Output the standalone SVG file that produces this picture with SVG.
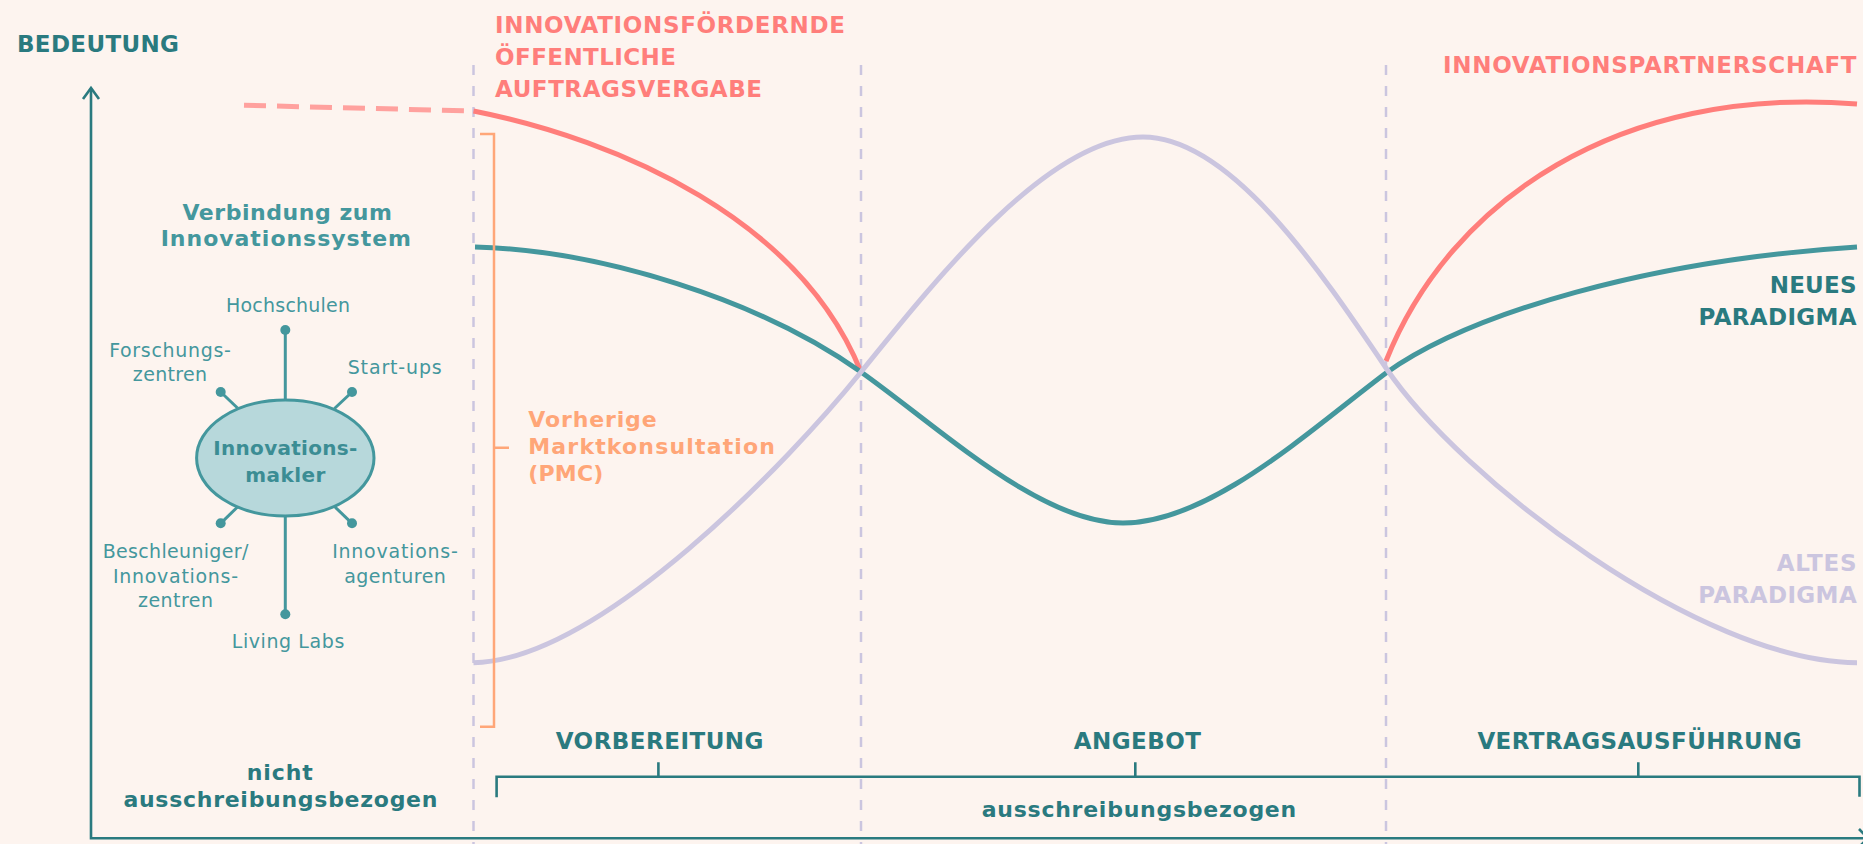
<svg xmlns="http://www.w3.org/2000/svg" width="1863" height="844" viewBox="0 0 1863 844">
  <defs>
    <style>
      .t { font-family: "DejaVu Sans", "Liberation Sans", sans-serif; }
      .cap { font-weight: bold; font-size: 23px; }
      .dark { fill: #2a7a7f; }
      .pink { fill: #ff7e7b; }
      .lav { fill: #cbc5df; }
      .lbl { font-size: 19px; fill: #44979d; text-anchor: middle; }
      .sub { font-weight: bold; font-size: 22px; }
      .pmc { font-weight: bold; font-size: 22px; fill: #ffa678; }
      .phase { fill: none; stroke: #cbc5df; stroke-width: 2.5; stroke-dasharray: 10 11; }
      .axis { fill: none; stroke: #2a7a7f; stroke-width: 2.6; }
      .curve { fill: none; stroke-width: 5; stroke-linecap: butt; }
      .spoke { stroke: #44979d; stroke-width: 3; }
      .dot { fill: #44979d; }
    </style>
  </defs>

  <rect width="1863" height="844" fill="#fdf4ef"/>

  <!-- phase separators -->
  <g id="phase-lines">
    <line class="phase" x1="473.5" y1="65" x2="473.5" y2="844"/>
    <line class="phase" x1="861" y1="65" x2="861" y2="844"/>
    <line class="phase" x1="1386" y1="65" x2="1386" y2="844"/>
  </g>

  <!-- axes -->
  <g id="axes">
    <path class="axis" d="M91,88 V838.3 H1863"/>
    <path class="axis" d="M83,99 L91,88 L99,99"/>
    <path class="axis" d="M1859,829 L1868,838.3 L1859,847"/>
    <text class="t cap dark" x="17" y="52" font-size="22" textLength="162">BEDEUTUNG</text>
  </g>

  <!-- importance curves -->
  <g id="connectors">
    <path id="curve-procurement-prior" class="curve" stroke="#ffa19e" stroke-dasharray="22 11" d="M244,105.3 L473.5,111"/>
    <path id="curve-procurement-left" class="curve" stroke="#ff7e7b" d="M473.5,111 C620,140 800,220 861,372"/>
    <path id="curve-procurement-right" class="curve" stroke="#ff7e7b" d="M1386,361 C1450,200 1620,85 1857,104"/>
    <path id="curve-new" class="curve" stroke="#44979d" d="M475,247 C600,250 760,300 861,372 C940,428 1040,523 1123,523 C1210,523 1310,430 1386,373 C1470,313 1650,260 1857,247"/>
    <path id="curve-old" class="curve" stroke="#cbc5df" stroke-width="5.2" d="M473.5,662.7 C600,660 790,460 861,372 C940,274 1050,137 1143,137 C1230,137 1320,270 1386,368 C1460,478 1700,662 1857,662.7"/>
  </g>

  <!-- curve labels -->
  <g id="label-procurement">
    <text class="t cap pink" x="495" y="33" textLength="350">INNOVATIONSFÖRDERNDE</text>
    <text class="t cap pink" x="495" y="65" textLength="181">ÖFFENTLICHE</text>
    <text class="t cap pink" x="495" y="97" textLength="267">AUFTRAGSVERGABE</text>
  </g>
  <g id="label-partnership">
    <text class="t cap pink" x="1443" y="72.5" textLength="413.5">INNOVATIONSPARTNERSCHAFT</text>
  </g>
  <g id="label-new">
    <text class="t cap dark" x="1769.7" y="292.7" textLength="86.8">NEUES</text>
    <text class="t cap dark" x="1698.6" y="325" textLength="157.9">PARADIGMA</text>
  </g>
  <g id="label-old">
    <text class="t cap lav" x="1776.7" y="570.7" textLength="80">ALTES</text>
    <text class="t cap lav" x="1698.3" y="602.7" textLength="158.4">PARADIGMA</text>
  </g>

  <!-- market consultation bracket -->
  <g id="pmc">
    <path d="M480,134 H494 V726.7 H480 M494,447.7 H509" fill="none" stroke="#ffa678" stroke-width="2.5"/>
    <text class="t pmc" x="528.3" y="427.3" textLength="128.3">Vorherige</text>
    <text class="t pmc" x="528.3" y="454.3" textLength="246.7">Marktkonsultation</text>
    <text class="t pmc" x="528.3" y="480.7" textLength="75">(PMC)</text>
  </g>

  <!-- innovation system -->
  <g id="label-system">
    <text class="t sub" fill="#44979d" x="182.5" y="220" textLength="209.5">Verbindung zum</text>
    <text class="t sub" fill="#44979d" x="160.7" y="246" textLength="250.3">Innovationssystem</text>
  </g>

  <g id="broker-spokes">
    <line class="spoke" x1="285.3" y1="330" x2="285.3" y2="401"/>
    <line class="spoke" x1="285.3" y1="515" x2="285.3" y2="614.3"/>
    <line class="spoke" x1="220.7" y1="392" x2="237.5" y2="408"/>
    <line class="spoke" x1="352" y1="392" x2="334.5" y2="408.5"/>
    <line class="spoke" x1="220.7" y1="523.3" x2="237.5" y2="507"/>
    <line class="spoke" x1="352" y1="523.3" x2="334.5" y2="506.5"/>
  </g>

  <g id="broker">
    <ellipse cx="285.3" cy="458" rx="88.7" ry="58" fill="#b7d8db" stroke="#44979d" stroke-width="3"/>
    <text class="t" font-weight="bold" font-size="20" fill="#3b8d94" text-anchor="middle" x="285.3" y="455" textLength="144">Innovations-</text>
    <text class="t" font-weight="bold" font-size="20" fill="#3b8d94" text-anchor="middle" x="285.3" y="481.7" textLength="80">makler</text>
  </g>

  <g id="node-hochschulen">
    <circle class="dot" cx="285.3" cy="330" r="5"/>
    <text class="t lbl" x="288" y="311.7" textLength="124">Hochschulen</text>
  </g>
  <g id="node-forschungszentren">
    <circle class="dot" cx="220.7" cy="392" r="5"/>
    <text class="t lbl" x="170" y="357" textLength="121.7">Forschungs-</text>
    <text class="t lbl" x="170" y="380.7" textLength="74.3">zentren</text>
  </g>
  <g id="node-startups">
    <circle class="dot" cx="352" cy="392" r="5"/>
    <text class="t lbl" x="394.7" y="374.3" textLength="94">Start-ups</text>
  </g>
  <g id="node-beschleuniger">
    <circle class="dot" cx="220.7" cy="523.3" r="5"/>
    <text class="t lbl" x="175.5" y="558.3" textLength="145.6">Beschleuniger/</text>
    <text class="t lbl" x="175.5" y="582.7" textLength="125">Innovations-</text>
    <text class="t lbl" x="175.5" y="606.7" textLength="75">zentren</text>
  </g>
  <g id="node-agenturen">
    <circle class="dot" cx="352" cy="523.3" r="5"/>
    <text class="t lbl" x="395" y="558.3" textLength="125.7">Innovations-</text>
    <text class="t lbl" x="395" y="582.7" textLength="101.7">agenturen</text>
  </g>
  <g id="node-livinglabs">
    <circle class="dot" cx="285.3" cy="614.3" r="5"/>
    <text class="t lbl" x="288" y="647.7" textLength="112.6">Living Labs</text>
  </g>

  <!-- procurement phases -->
  <g id="phases">
    <path class="axis" d="M496.6,797.3 V776.7 H1859.5 V796.7 M658.4,762.3 V776.7 M1135.3,762.3 V776.7 M1638.3,762.3 V776.7"/>
    <text class="t cap dark" x="555.7" y="749.3" textLength="207.8">VORBEREITUNG</text>
    <text class="t cap dark" x="1073.8" y="749.3" textLength="127.2">ANGEBOT</text>
    <text class="t cap dark" x="1477.4" y="749.3" textLength="324.3">VERTRAGSAUSFÜHRUNG</text>
    <text class="t sub dark" x="981.7" y="816.7" textLength="314.5">ausschreibungsbezogen</text>
  </g>
  <g id="label-not-tender">
    <text class="t sub dark" x="246.8" y="780" textLength="66">nicht</text>
    <text class="t sub dark" x="123.4" y="806.7" textLength="314">ausschreibungsbezogen</text>
  </g>
</svg>
